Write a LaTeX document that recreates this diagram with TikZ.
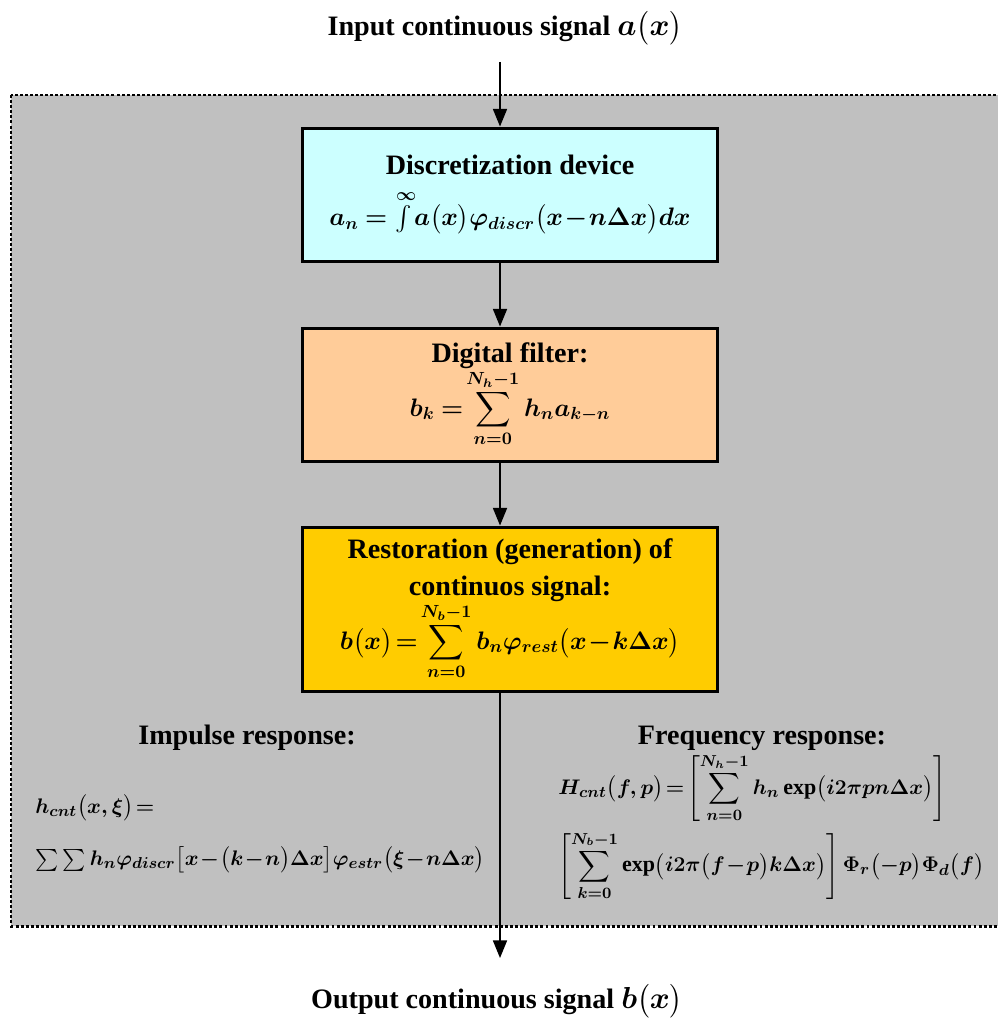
\documentclass[tikz,border=0pt]{standalone}
\usepackage{amsmath, amssymb}
\usepackage{xcolor}
\usepackage{fontspec}
\setmainfont{Liberation Serif}
\usepackage{tikz}
\usetikzlibrary{positioning,arrows.meta}

\definecolor{panelgray}{HTML}{C0C0C0}
\definecolor{disccyan}{HTML}{CCFFFF}
\definecolor{filterorange}{HTML}{FFCC99}
\definecolor{restgold}{HTML}{FFCC00}
\newcommand{\tightmath}{\medmuskip=1mu\relax\thickmuskip=2mu\relax}
\newcommand{\eqsize}{\fontsize{14}{16}\selectfont\tightmath}

\begin{document}
\begin{tikzpicture}[
  x=0.02cm, y=-0.02cm,
  block/.style={rectangle, draw, line width=1.7pt, minimum width=8.3cm, align=center,
    font=\fontsize{16}{21}\selectfont\bfseries\boldmath},
  heading/.style={font=\fontsize{16}{19}\selectfont\bfseries\boldmath},
  formula/.style={anchor=west, inner sep=0pt,
    font=\fontsize{12.5}{15}\selectfont\bfseries\boldmath\tightmath},
  arrow/.style={-{Triangle[length=10pt,width=8pt]}, line width=0.8pt},
]
  \useasboundingbox (0,0) rectangle (997,1023);
  \draw[fill=panelgray, line width=1.7pt, dash pattern=on 1.7pt off 1.2pt] (11,95) rectangle (1015,926);

  \node[heading] (input) at (505,28) {Input continuous signal $a\bigl(x\bigr)$};
  \node[heading] (output) at (497,1001) {Output continuous signal $b\bigl(x\bigr)$};

  \node[block, fill=disccyan, minimum height=2.68cm] (disc) at (510,195)
    {Discretization device\\[8pt]
     {\eqsize$a_n\;=\;\int\limits^{\infty}\!a\bigl(x\bigr)\varphi_{discr}\bigl(x-n\Delta x\bigr)dx$}};
  \node[block, fill=filterorange, minimum height=2.68cm] (filter) at (510,395)
    {Digital filter:\\[0pt]
     {\eqsize$\displaystyle b_k\;=\sum_{n=0}^{N_h-1}h_n a_{k-n}$}};
  \node[block, fill=restgold, minimum height=3.3cm] (rest) at (510,609.5)
    {Restoration (generation) of\\ continuos signal:\\[0pt]
     {\eqsize$\displaystyle b\bigl(x\bigr)=\sum_{n=0}^{N_b-1}b_n\varphi_{rest}\bigl(x-k\Delta x\bigr)$}};

  % signal path
  \coordinate (top) at (500,62);
  \coordinate (bottom) at (500,958);
  \draw[arrow] (top) -- (disc.north -| top);
  \draw[arrow] (disc.south -| top) -- (filter.north -| top);
  \draw[arrow] (filter.south -| top) -- (rest.north -| top);
  \draw[arrow] (rest.south -| top) -- (bottom);

  % responses
  \node[heading] (impulse) at (247,738) {Impulse response:};
  \node[formula] (hcnt) at (35,808) {$h_{cnt}\bigl(x,\xi\bigr)=$};
  \node[formula] (hsum) at (35,860)
    {$\sum\sum h_n\varphi_{discr}\bigl[x-\bigl(k-n\bigr)\Delta x\bigr]\varphi_{estr}\bigl(\xi-n\Delta x\bigr)$};

  \node[heading] (frequency) at (762,738) {Frequency response:};
  \node[formula] (Hcnt) at (558,788)
    {$\displaystyle H_{cnt}\bigl(f,p\bigr)=\left[\sum_{n=0}^{N_h-1}h_n\exp\bigl(i2\pi pn\Delta x\bigr)\right]$};
  \node[formula] (Hsum) at (558,866)
    {$\displaystyle \left[\sum_{k=0}^{N_b-1}\exp\bigl(i2\pi\bigl(f-p\bigr)k\Delta x\bigr)\right]\Phi_r\bigl(-p\bigr)\Phi_d\bigl(f\bigr)$};
\end{tikzpicture}
\end{document}
